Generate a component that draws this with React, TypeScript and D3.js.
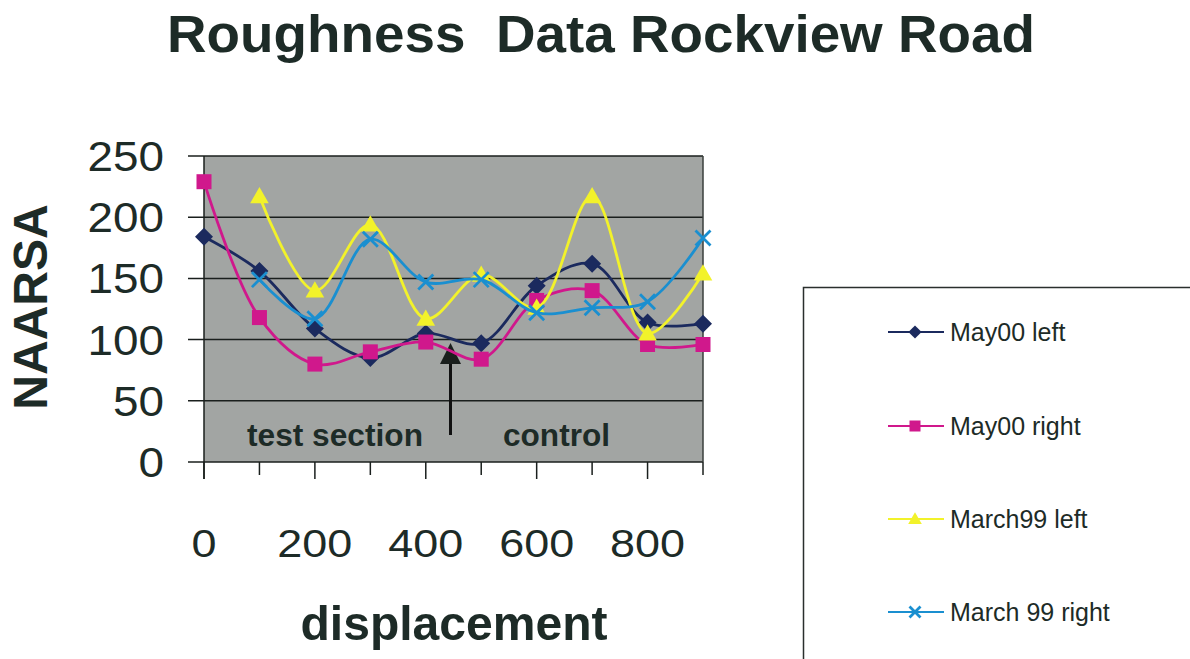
import React from "react";
import * as d3 from "d3";

// Displacement stations along the road (m)
const displacement = [0, 100, 200, 300, 400, 500, 600, 700, 800, 900];
const xTickLabels = [0, 200, 400, 600, 800];
const yTickValues = [0, 50, 100, 150, 200, 250];

// NAASRA roughness readings per survey
const may00Left = [184, 156, 109, 85, 105, 97, 144, 162, 114, 113];
const may00Right = [229, 118, 80, 90, 98, 84, 132, 140, 96, 96];
const march99Left = [null, 217, 140, 194, 117, 153, 126, 217, 105, 154];
const march99Right = [null, 149, 117, 182, 147, 149, 122, 126, 131, 183];

const seriesNames = ["May00 left", "May00 right", "March99 left", "March 99 right"];

const W = 1190;
const H = 659;
const TEXT = "#1d2b27";
const FONT = "Arial, 'Liberation Sans', Helvetica, sans-serif";

type Marker = "diamond" | "square" | "triangle" | "cross";

const series: { name: string; values: (number | null)[]; color: string; marker: Marker }[] = [
  { name: seriesNames[0], values: may00Left, color: "#1b2a5e", marker: "diamond" },
  { name: seriesNames[1], values: may00Right, color: "#d0188c", marker: "square" },
  { name: seriesNames[2], values: march99Left, color: "#f2f22a", marker: "triangle" },
  { name: seriesNames[3], values: march99Right, color: "#1a8fd0", marker: "cross" },
];

function MarkerShape({ type, x, y, color, s }: { type: Marker; x: number; y: number; color: string; s: number }) {
  if (type === "diamond") {
    const r = s * 0.6;
    return <path d={`M${x},${y - r}L${x + r},${y}L${x},${y + r}L${x - r},${y}Z`} fill={color} />;
  }
  if (type === "square") {
    const r = s / 2;
    return <rect x={x - r} y={y - r} width={s} height={s} fill={color} />;
  }
  if (type === "triangle") {
    const r = s * 0.62;
    return <path d={`M${x},${y - r}L${x + r},${y + r * 0.75}L${x - r},${y + r * 0.75}Z`} fill={color} />;
  }
  const r = s / 2;
  return (
    <path
      d={`M${x - r},${y - r}L${x + r},${y + r}M${x - r},${y + r}L${x + r},${y - r}`}
      stroke={color}
      strokeWidth={2.8}
      fill="none"
    />
  );
}

export default function App() {
  const left = 204;
  const right = 703;
  const top = 156;
  const bottom = 462;

  const x = d3.scaleLinear().domain([0, 900]).range([left, right]);
  const y = d3.scaleLinear().domain([0, 250]).range([bottom, top]);

  const line = d3
    .line<[number, number | null]>()
    .defined((d) => d[1] != null)
    .x((d) => x(d[0]))
    .y((d) => y(d[1] as number))
    .curve(d3.curveCatmullRom.alpha(0.5));

  const legendY = [332, 426, 519, 612];

  return (
    <svg width={W} height={H} style={{ position: "absolute", left: 0, top: 0, background: "#fff" }} fontFamily={FONT}>
      <rect x={0} y={0} width={W} height={H} fill="#ffffff" />

      {/* title */}
      <text x={167} y={52} fontSize={51} fontWeight="bold" fill={TEXT} textLength={868} lengthAdjust="spacingAndGlyphs">
        {"Roughness\u00a0\u00a0Data Rockview Road"}
      </text>

      {/* plot background */}
      <rect x={left} y={top} width={right - left} height={bottom - top} fill="#a2a5a3" />

      {/* gridlines and y ticks */}
      {yTickValues.map((v) => (
        <line key={`g${v}`} x1={188} x2={right} y1={y(v)} y2={y(v)} stroke="#1a1f1d" strokeWidth={1.5} />
      ))}
      <line x1={right} x2={right} y1={top} y2={bottom} stroke="#3a3f3d" strokeWidth={1.5} />
      <line x1={left} x2={left} y1={top} y2={bottom + 17} stroke="#1a1f1d" strokeWidth={1.5} />

      {/* x ticks */}
      {displacement.map((d) => (
        <line key={`t${d}`} x1={x(d)} x2={x(d)} y1={bottom} y2={bottom + (d % 200 === 0 ? 17 : 13)} stroke="#1a1f1d" strokeWidth={1.5} />
      ))}

      {/* y tick labels */}
      {yTickValues.map((v) => (
        <text
          key={`yl${v}`}
          x={164}
          y={y(v) + 15}
          fontSize={42}
          fill={TEXT}
          textAnchor="end"
          textLength={String(v).length * 25.5}
          lengthAdjust="spacingAndGlyphs"
        >
          {v}
        </text>
      ))}

      {/* x tick labels */}
      {xTickLabels.map((v) => (
        <text
          key={`xl${v}`}
          x={x(v)}
          y={557}
          fontSize={39}
          fill={TEXT}
          textAnchor="middle"
          textLength={String(v).length * 25}
          lengthAdjust="spacingAndGlyphs"
        >
          {v}
        </text>
      ))}

      {/* axis titles */}
      <text x={454} y={640} fontSize={49} fontWeight="bold" fill={TEXT} textAnchor="middle" textLength={307} lengthAdjust="spacingAndGlyphs">
        displacement
      </text>
      <text transform="translate(47,307) rotate(-90)" fontSize={48} fontWeight="bold" fill={TEXT} textAnchor="middle">
        NAARSA
      </text>

      {/* section annotations */}
      <text x={247} y={446} fontSize={31} fontWeight="bold" fill={TEXT} textLength={176} lengthAdjust="spacingAndGlyphs">
        test section
      </text>
      <text x={503} y={446} fontSize={31} fontWeight="bold" fill={TEXT} textLength={107} lengthAdjust="spacingAndGlyphs">
        control
      </text>
      <line x1={450.5} x2={450.5} y1={435} y2={360} stroke="#111" strokeWidth={3} />
      <path d="M450.5,343L461,364L440,364Z" fill="#1a1f1d" />

      {/* series */}
      {series.map((s) => {
        const pts = displacement.map((d, i) => [d, s.values[i]] as [number, number | null]);
        return (
          <g key={s.name}>
            <path d={line(pts) || ""} fill="none" stroke={s.color} strokeWidth={2.8} />
            {pts
              .filter((p) => p[1] != null)
              .map((p) => (
                <MarkerShape key={p[0]} type={s.marker} x={x(p[0])} y={y(p[1] as number)} color={s.color} s={15} />
              ))}
          </g>
        );
      })}

      {/* legend */}
      <rect x={803.5} y={287.5} width={420} height={420} fill="#ffffff" stroke="#2a2f2d" strokeWidth={1.5} />
      {series.map((s, i) => (
        <g key={`lg${i}`}>
          <line x1={888} x2={944} y1={legendY[i]} y2={legendY[i]} stroke={s.color} strokeWidth={2} />
          <MarkerShape type={s.marker} x={915} y={legendY[i]} color={s.color} s={11} />
          <text x={950} y={legendY[i] + 9} fontSize={25} fill={TEXT}>
            {s.name}
          </text>
        </g>
      ))}
    </svg>
  );
}
